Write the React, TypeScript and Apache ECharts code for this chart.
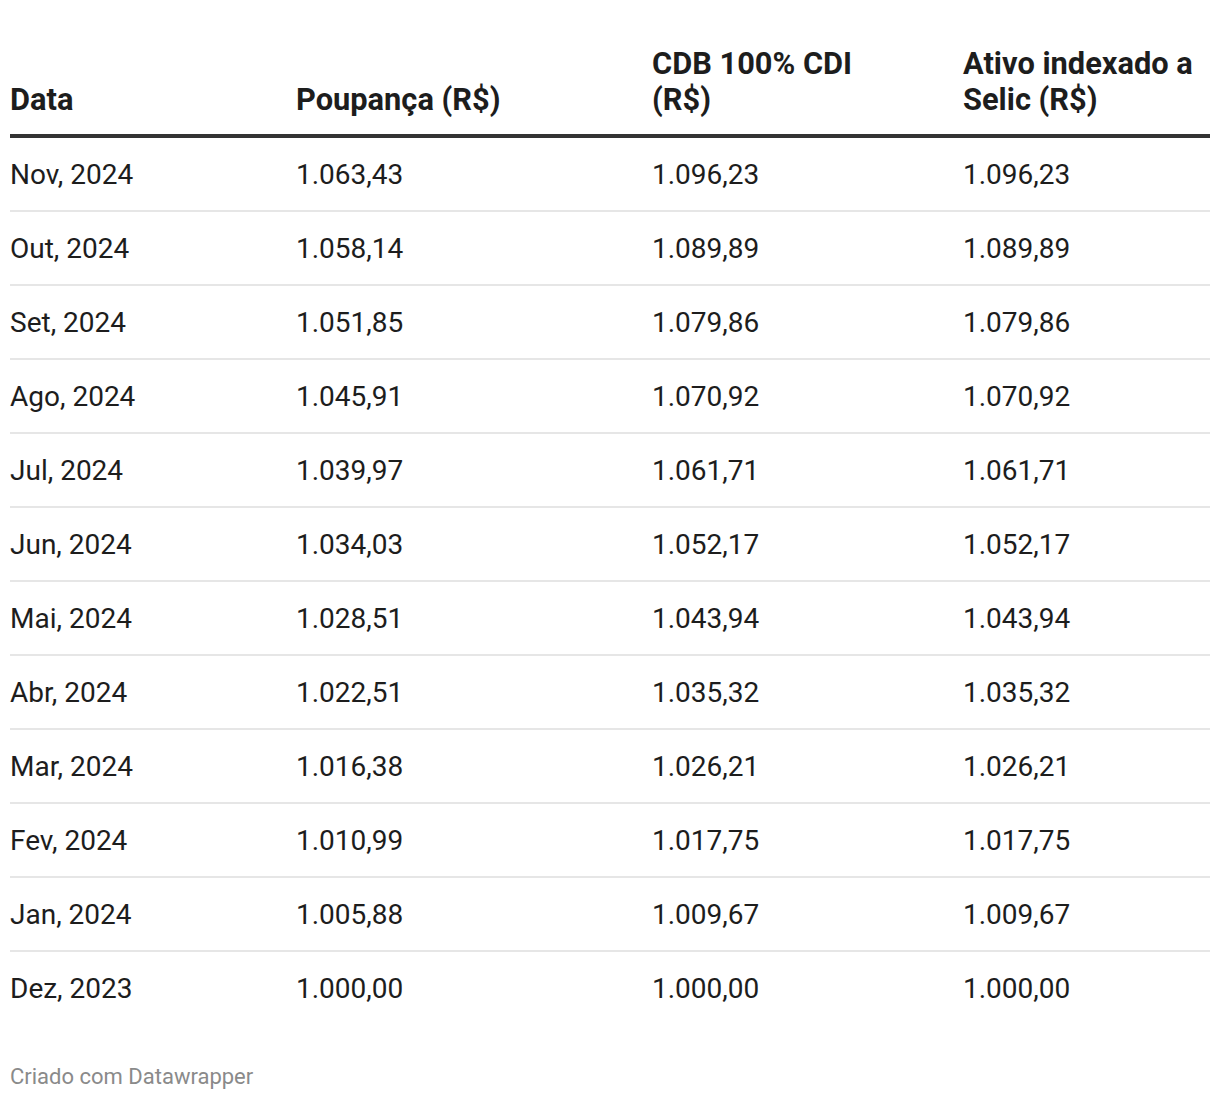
import React, { useEffect, useRef } from "react";
import * as echarts from "echarts";

// ---- data ----
const headerLines: string[][] = [
  ["Data"],
  ["Poupança (R$)"],
  ["CDB 100% CDI", "(R$)"],
  ["Ativo indexado a", "Selic (R$)"],
];
const dates = [
  "Nov, 2024", "Out, 2024", "Set, 2024", "Ago, 2024", "Jul, 2024", "Jun, 2024",
  "Mai, 2024", "Abr, 2024", "Mar, 2024", "Fev, 2024", "Jan, 2024", "Dez, 2023",
];
const poupanca = [1063.43, 1058.14, 1051.85, 1045.91, 1039.97, 1034.03, 1028.51, 1022.51, 1016.38, 1010.99, 1005.88, 1000.0];
const cdb = [1096.23, 1089.89, 1079.86, 1070.92, 1061.71, 1052.17, 1043.94, 1035.32, 1026.21, 1017.75, 1009.67, 1000.0];
const selic = [1096.23, 1089.89, 1079.86, 1070.92, 1061.71, 1052.17, 1043.94, 1035.32, 1026.21, 1017.75, 1009.67, 1000.0];
const footer = "Criado com Datawrapper";

// ---- layout / style ----
const COL_X = [0, 286, 642, 953]; // column offsets on the hidden x scale
const FONT = "Roboto";
const TEXT = "#1d1d1d";

function fmt(v: number): string {
  const [int, dec] = v.toFixed(2).split(".");
  const withDots = int.replace(/\B(?=(\d{3})+(?!\d))/g, ".");
  return withDots + "," + dec;
}

const valueCols = [poupanca, cdb, selic];
const cells: { value: number[] }[] = [];
const cellText: string[] = [];
dates.forEach((d, r) => {
  cells.push({ value: [0, r] });
  cellText.push(d);
  valueCols.forEach((col, ci) => {
    cells.push({ value: [ci + 1, r] });
    cellText.push(fmt(col[r]));
  });
});

export default function App() {
  const ref = useRef<HTMLDivElement>(null);
  useEffect(() => {
    document.body.style.margin = "0";
    const chart = echarts.init(ref.current!, null, { renderer: "svg" });
    const gridLeft = 10;
    const gridTop = 137;
    const rowH = 74;

    const headerGraphics: any[] = [];
    headerLines.forEach((lines, c) => {
      const n = lines.length;
      lines.forEach((t, li) => {
        headerGraphics.push({
          type: "text",
          x: gridLeft + COL_X[c],
          y: 99 - (n - 1 - li) * 36,
          style: {
            text: t,
            fill: TEXT,
            fontFamily: FONT,
            fontSize: 30.8,
            fontWeight: "bold",
            align: "left",
            verticalAlign: "middle",
          },
        });
      });
    });
    headerGraphics.push({
      type: "line",
      shape: { x1: 10, y1: 136, x2: 1210, y2: 136 },
      style: { stroke: "#333333", lineWidth: 4 },
    });
    headerGraphics.push({
      type: "text",
      x: 10,
      y: 1076,
      style: {
        text: footer,
        fill: "#8a8a8a",
        fontFamily: FONT,
        fontSize: 22,
        align: "left",
        verticalAlign: "middle",
      },
    });

    chart.setOption({
      animation: false,
      backgroundColor: "#ffffff",
      grid: { left: gridLeft, right: 10, top: gridTop, height: rowH * dates.length },
      xAxis: { type: "value", min: 0, max: 1200, show: false },
      yAxis: { type: "category", data: dates, inverse: true, show: false },
      graphic: headerGraphics,
      series: [
        {
          type: "custom",
          data: cells,
          clip: false,
          renderItem: (params: any, api: any) => {
            const c = api.value(0);
            const r = api.value(1);
            const pt = api.coord([COL_X[c], r]);
            const children: any[] = [
              {
                type: "text",
                x: pt[0],
                y: pt[1],
                style: {
                  text: cellText[params.dataIndex],
                  fill: TEXT,
                  fontFamily: FONT,
                  fontSize: 28,
                  align: "left",
                  verticalAlign: "middle",
                },
              },
            ];
            if (c === 0 && r < dates.length - 1) {
              const band = api.size([0, 1])[1];
              const cs = params.coordSys;
              children.push({
                type: "line",
                shape: { x1: cs.x, y1: pt[1] + band / 2, x2: cs.x + cs.width, y2: pt[1] + band / 2 },
                style: { stroke: "#e6e6e6", lineWidth: 2 },
              });
            }
            return { type: "group", children };
          },
        },
      ],
    });
    return () => chart.dispose();
  }, []);
  return <div ref={ref} style={{ width: 1220, height: 1100 }} />;
}
